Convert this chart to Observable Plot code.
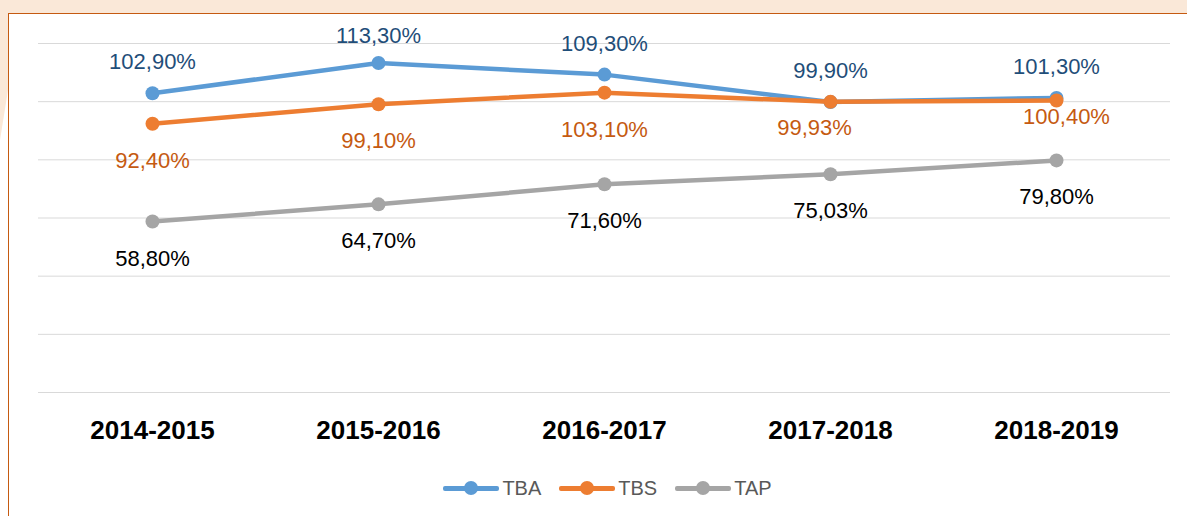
<!DOCTYPE html>
<html>
<head>
<meta charset="utf-8">
<script src="https://cdn.jsdelivr.net/npm/d3@7"></script>
<script src="https://cdn.jsdelivr.net/npm/@observablehq/plot@0.6"></script>
<style>
  html, body { margin: 0; padding: 0; background: #ffffff; }
  #wrap { position: relative; width: 1187px; height: 516px; overflow: hidden; background: #ffffff; }
  #topband { position: absolute; left: 0; top: 0; width: 1187px; height: 13px; background: #FAE8D8; }
  #wedge { position: absolute; left: 0; top: 0; width: 9px; height: 140px; background: #FAE8D8; clip-path: polygon(0 0, 100% 0, 100% 60%, 0 100%); }
  #frame { position: absolute; left: 8px; top: 13px; width: 1179px; height: 503px; border-top: 1.5px solid #C55A11; border-left: 1.5px solid #C55A11; box-sizing: border-box; }
  #chart { position: absolute; left: 0; top: 0; }
  #legend { position: absolute; top: 476px; left: 14px; width: 1187px; display: flex; justify-content: center; font-family: "Liberation Sans", Arial, sans-serif; font-size: 20px; color: #595959; }
  .item { display: inline-flex; align-items: center; margin: 0 9px; }
  .sw { position: relative; width: 56px; height: 24px; margin-right: 3px; }
  .sw .ln { position: absolute; left: 0; right: 0; top: 10px; height: 4.5px; border-radius: 2px; }
  .sw .dt { position: absolute; left: 21px; top: 5px; width: 14px; height: 14px; border-radius: 50%; }
</style>
</head>
<body>
<div id="wrap">
  <div id="topband"></div>
  <div id="wedge"></div>
  <div id="frame"></div>
  <div id="chart"></div>
  <div id="legend"></div>
</div>
<script>
const years = ["2014-2015", "2015-2016", "2016-2017", "2017-2018", "2018-2019"];
const seriesNames = ["TBA", "TBS", "TAP"];
const tba = [102.9, 113.3, 109.3, 99.9, 101.3];
const tbs = [92.4, 99.1, 103.1, 99.93, 100.4];
const tap = [58.8, 64.7, 71.6, 75.03, 79.8];
const tbaLabels = ["102,90%", "113,30%", "109,30%", "99,90%", "101,30%"];
const tbsLabels = ["92,40%", "99,10%", "103,10%", "99,93%", "100,40%"];
const tapLabels = ["58,80%", "64,70%", "71,60%", "75,03%", "79,80%"];
const yTicks = [0, 20, 40, 60, 80, 100, 120];

const colors = {TBA: "#5B9BD5", TBS: "#ED7D31", TAP: "#A5A5A5"};
const labelColors = {TBA: "#1F4E79", TBS: "#C55A11", TAP: "#000000"};

const vals = {TBA: tba, TBS: tbs, TAP: tap};
const labs = {TBA: tbaLabels, TBS: tbsLabels, TAP: tapLabels};
const data = seriesNames.flatMap(s => years.map((y, i) => ({series: s, year: y, value: vals[s][i], label: labs[s][i], idx: i})));

const font = "'Liberation Sans', Arial, sans-serif";
const marks = [
  Plot.ruleY(yTicks, {stroke: "#D9D9D9", strokeWidth: 1})
];
for (const s of seriesNames) {
  const d = data.filter(r => r.series === s);
  marks.push(Plot.line(d, {x: "year", y: "value", stroke: colors[s], strokeWidth: 4.5, strokeLinecap: "round", strokeLinejoin: "round"}));
  marks.push(Plot.dot(d, {x: "year", y: "value", fill: colors[s], r: 7}));
}
const textBase = {x: "year", y: "value", text: "label", fontSize: 22, fontFamily: font};
marks.push(Plot.text(data.filter(r => r.series === "TBA" && r.idx !== 1), {...textBase, fill: labelColors.TBA, dy: -31}));
marks.push(Plot.text(data.filter(r => r.series === "TBA" && r.idx === 1), {...textBase, fill: labelColors.TBA, dy: -27}));
marks.push(Plot.text(data.filter(r => r.series === "TBS" && r.idx < 3), {...textBase, fill: labelColors.TBS, dy: 37}));
marks.push(Plot.text(data.filter(r => r.series === "TBS" && r.idx === 3), {...textBase, fill: labelColors.TBS, dy: 26, dx: -16}));
marks.push(Plot.text(data.filter(r => r.series === "TBS" && r.idx === 4), {...textBase, fill: labelColors.TBS, dy: 16, dx: 10}));
marks.push(Plot.text(data.filter(r => r.series === "TAP"), {...textBase, fill: labelColors.TAP, dy: 37}));

const chart = Plot.plot({
  width: 1187,
  height: 460,
  marginLeft: 38,
  marginRight: 17,
  marginTop: 43,
  marginBottom: 68,
  style: {background: "transparent", fontFamily: font, overflow: "visible"},
  x: {type: "point", domain: years, padding: 0.5, label: null, tickSize: 0, tickPadding: 28},
  y: {domain: [0, 120], axis: null},
  marks: [
    ...marks,
    Plot.axisX({tickSize: 0, tickPadding: 28, fontSize: 26, fontWeight: "bold", fill: "#000", label: null, fontFamily: font})
  ]
});
document.getElementById("chart").appendChild(chart);

const legend = document.getElementById("legend");
for (const s of seriesNames) {
  const it = document.createElement("span");
  it.className = "item";
  it.innerHTML = `<span class="sw"><span class="ln" style="background:${colors[s]}"></span><span class="dt" style="background:${colors[s]}"></span></span><span>${s}</span>`;
  legend.appendChild(it);
}
</script>
</body>
</html>
